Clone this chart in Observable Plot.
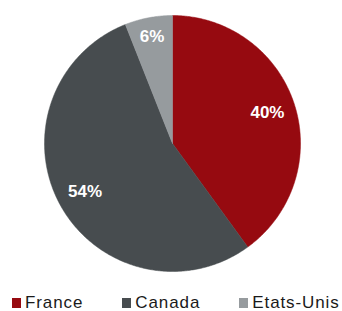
<!DOCTYPE html>
<html>
<head>
<meta charset="utf-8">
<script src="https://cdn.jsdelivr.net/npm/d3@7"></script>
<script src="https://cdn.jsdelivr.net/npm/@observablehq/plot@0.6"></script>
<style>
  html, body { margin: 0; padding: 0; background: #fff; }
  #wrap { position: relative; width: 342px; height: 311px; overflow: hidden; font-family: "Liberation Sans", Arial, sans-serif; }
  #chart { position: absolute; left: 0; top: 0; }
  #legend { position: absolute; left: 12px; top: 294px; display: flex; align-items: center; height: 17px; line-height: 17px; font-size: 17px; letter-spacing: 0.9px; color: #1a1a1a; white-space: nowrap; }
  .item { display: flex; align-items: center; margin-right: 39px; }
  .sw { width: 9px; height: 10px; margin-right: 4px; margin-top: 1px; }
</style>
</head>
<body>
<div id="wrap">
  <div id="chart"></div>
  <div id="legend"></div>
</div>
<script>
const categories = ["France", "Canada", "Etats-Unis"];
const values = [40, 54, 6];
const labels = ["40%", "54%", "6%"];
const colors = ["#960a10", "#474c4f", "#969b9e"];

const pie = d3.pie().sort(null).value(d => d.value)(
  categories.map((name, i) => ({name, value: values[i], label: labels[i]}))
);

// polygon outline of each slice (unit circle, angle measured clockwise from top)
const slices = [];
for (const a of pie) {
  const n = Math.max(2, Math.ceil((a.endAngle - a.startAngle) / 0.01));
  slices.push({name: a.data.name, x: 0, y: 0});
  for (let k = 0; k <= n; k++) {
    const t = a.startAngle + (a.endAngle - a.startAngle) * k / n;
    slices.push({name: a.data.name, x: Math.sin(t), y: Math.cos(t)});
  }
  slices.push({name: a.data.name, x: 0, y: 0});
}

const labelPts = pie.map(a => {
  const mid = (a.startAngle + a.endAngle) / 2;
  const r = a.data.value < 10 ? 0.85 : 0.78;
  return {label: a.data.label, x: r * Math.sin(mid), y: r * Math.cos(mid)};
});

const cx = 172, cy = 143, R = 128;
const plot = Plot.plot({
  width: 342,
  height: 290,
  margin: 0,
  x: {domain: [-1, 1], range: [cx - R, cx + R], axis: null},
  y: {domain: [-1, 1], range: [cy + R, cy - R], axis: null},
  color: {domain: categories, range: colors},
  style: {fontFamily: "Liberation Sans, Arial, sans-serif", background: "white"},
  marks: [
    Plot.line(slices, {x: "x", y: "y", z: "name", fill: "name", stroke: "name", strokeWidth: 0.5, curve: "linear"}),
    Plot.text(labelPts, {x: "x", y: "y", text: "label", fill: "white", fontSize: 17, fontWeight: "bold"})
  ]
});
document.getElementById("chart").appendChild(plot);

const legend = document.getElementById("legend");
categories.forEach((c, i) => {
  const it = document.createElement("div");
  it.className = "item";
  const sw = document.createElement("span");
  sw.className = "sw";
  sw.style.background = colors[i];
  const tx = document.createElement("span");
  tx.textContent = c;
  it.appendChild(sw);
  it.appendChild(tx);
  legend.appendChild(it);
});
</script>
</body>
</html>
